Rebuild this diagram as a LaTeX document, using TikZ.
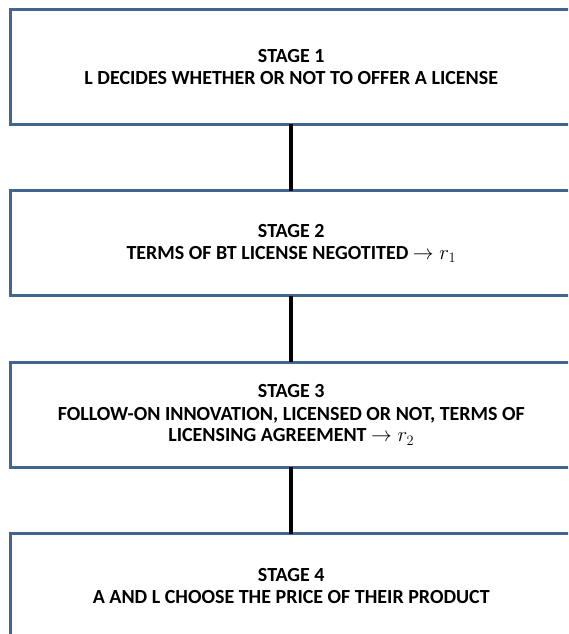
\documentclass[tikz,border=0pt]{standalone}
\usepackage{fontspec}
\setmainfont{Carlito}
\usetikzlibrary{positioning}
\definecolor{boxblue}{RGB}{65,102,143}
\tikzset{
  stagebox/.style={draw=boxblue,line width=3pt,fill=white,minimum width=561pt,minimum height=105pt,
    align=center,font=\bfseries\fontsize{20}{22}\selectfont,inner sep=0pt,outer sep=0pt},
  link/.style={line width=4pt,black},
}
\begin{document}
\begin{tikzpicture}
            \useasboundingbox (0,0) rectangle (568pt,634pt);
            \clip (0,0) rectangle (568pt,634pt);
            \node[stagebox,minimum height=115pt,anchor=north] (s1) at (291.3pt,624.5pt)
              {STAGE 1\\L DECIDES WHETHER OR NOT TO OFFER A LICENSE}; %stage 1
            \node[stagebox,below=66.5pt of s1] (s2)
              {STAGE 2\\TERMS OF BT LICENSE NEGOTITED $\rightarrow r_1$}; %stage 2
            \node[stagebox,below=66.5pt of s2] (s3)
              {STAGE 3\\FOLLOW-ON INNOVATION, LICENSED OR NOT, TERMS OF\\LICENSING AGREEMENT $\rightarrow r_2$}; %stage 3
            \node[stagebox,below=66.5pt of s3] (s4)
              {STAGE 4\\A AND L CHOOSE THE PRICE OF THEIR PRODUCT}; %stage 4
            \draw[link] (s1.south)--(s2.north);
            \draw[link] (s2.south)--(s3.north);
            \draw[link] (s3.south)--(s4.north);
        \end{tikzpicture}
\end{document}
